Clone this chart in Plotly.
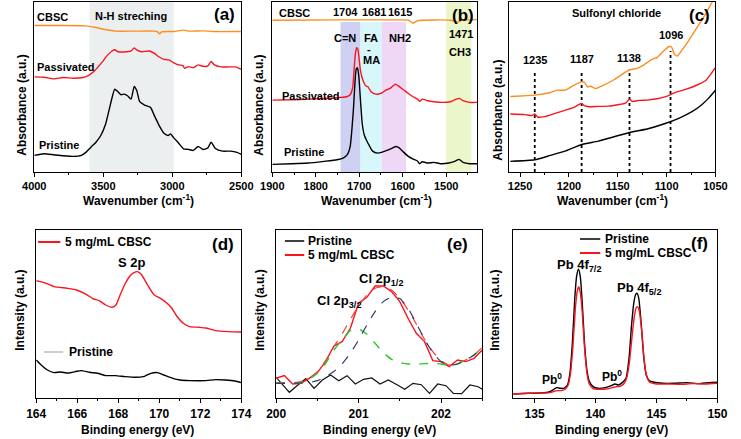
import plotly.graph_objects as go

W, H = 741, 439
FONT = "Liberation Sans, Arial, sans-serif"
ORANGE = "rgb(255,140,30)"
RED = "rgb(250,20,30)"
BLACK = "black"

# ---------------- Panel (a) : FTIR 4000-2500 ----------------
a_wn_cbsc = [4000, 3812, 3624, 3553, 3483, 3412, 3271, 3130, 3107, 3093, 3078, 2989, 2918, 2883, 2777, 2707, 2500]
a_cbsc = [147.3, 147.3, 147.0, 145.3, 143.3, 141.7, 141.7, 141.7, 141.0, 139.0, 141.0, 141.3, 142.7, 141.7, 142.0, 141.3, 141.3]

a_wn_pas = [4000, 3929, 3859, 3788, 3718, 3647, 3612, 3577, 3542, 3506, 3471, 3436, 3417, 3393, 3365, 3330, 3299,
            3276, 3252, 3224, 3165, 3130, 3095, 3060, 3024, 2989, 2954, 2923, 2911, 2883, 2848, 2813, 2777, 2742,
            2719, 2695, 2648, 2589, 2542, 2500]
a_pas = [95.7, 95.3, 93.7, 95.0, 94.3, 95.0, 96.7, 100.0, 105.0, 111.0, 117.3, 121.7, 123.0, 121.0, 120.7, 121.0, 121.7,
         124.7, 122.3, 121.0, 121.7, 119.3, 115.7, 113.3, 112.7, 109.7, 107.7, 107.0, 104.3, 106.0, 105.0, 107.7, 106.3, 106.7,
         111.3, 107.7, 105.7, 105.7, 105.7, 103.3]

a_wn_pri = [4000, 3929, 3859, 3788, 3718, 3659, 3624, 3589, 3553, 3518, 3483, 3459, 3436, 3417, 3396, 3372, 3349, 3325,
            3299, 3276, 3257, 3236, 3201, 3158, 3130, 3095, 3060, 3031, 3013, 2989, 2954, 2919, 2883, 2848, 2813, 2777,
            2742, 2719, 2688, 2636, 2578, 2531, 2500]
a_pri = [16.7, 18.3, 17.3, 16.3, 15.7, 16.7, 20.0, 25.0, 30.0, 36.7, 48.3, 61.7, 75.0, 83.3, 81.0, 77.7, 78.3, 76.7,
         73.3, 86.0, 81.7, 70.7, 67.3, 65.0, 56.7, 46.7, 39.0, 36.7, 38.3, 34.3, 29.0, 23.3, 22.7, 21.7, 25.7, 22.7,
         24.3, 30.0, 23.7, 21.0, 21.0, 19.7, 17.7]
a_band = [3600, 2990]

# ---------------- Panel (b) : FTIR 1900-1430 ----------------
b_wn_cbsc = [1900, 1744, 1632, 1587, 1576, 1565, 1490, 1472, 1464, 1429]
b_cbsc = [152.7, 153.0, 153.0, 152.7, 149.7, 152.3, 152.7, 150.7, 152.7, 153.3]

b_wn_pas = [1900, 1855, 1818, 1781, 1744, 1729, 1721, 1715, 1712, 1709, 1706, 1703, 1700, 1697, 1691, 1685, 1680,
            1673, 1662, 1650, 1639, 1628, 1617, 1610, 1598, 1587, 1576, 1566, 1561, 1555, 1542, 1528, 1509, 1490,
            1478, 1469, 1461, 1446, 1429]
b_pas = [72.3, 72.7, 73.3, 74.0, 75.0, 75.7, 77.7, 85.0, 101.7, 118.3, 125.0, 123.3, 113.3, 101.7, 91.7, 86.7, 85.7,
         81.0, 78.3, 79.0, 82.3, 84.3, 88.3, 86.7, 82.7, 79.0, 75.7, 73.3, 71.0, 73.3, 71.7, 70.7, 70.0, 70.7,
         73.0, 74.0, 71.7, 70.0, 70.0]

b_wn_pri = [1900, 1855, 1818, 1781, 1751, 1736, 1727, 1721, 1717, 1713, 1710, 1707, 1704, 1701, 1697, 1693, 1688,
            1683, 1677, 1669, 1658, 1647, 1636, 1624, 1615, 1608, 1598, 1587, 1576, 1566, 1561, 1555, 1542, 1528,
            1513, 1494, 1479, 1470, 1461, 1446, 1429]
b_pri = [7.7, 8.3, 9.0, 10.7, 12.3, 14.3, 17.7, 25.0, 41.7, 65.0, 88.3, 103.3, 105.0, 96.7, 71.7, 48.3, 36.7,
         31.7, 26.7, 21.0, 19.0, 20.0, 21.7, 24.0, 25.7, 24.3, 20.0, 15.7, 13.0, 11.0, 8.3, 10.3, 9.0, 9.7,
         8.3, 9.0, 11.0, 12.7, 9.7, 8.3, 8.3]
b_bands = [(1743, 1697), (1697, 1648), (1648, 1592), (1500, 1442)]
b_band_tops = [151, 151, 151, 171]
b_band_colors = ["rgb(207,209,243)", "rgb(215,247,250)", "rgb(239,215,246)", "rgb(235,246,202)"]

# ---------------- Panel (c) : FTIR 1260-1050 ----------------
c_wn_cbsc = [1260, 1235, 1219, 1212, 1204, 1196, 1187, 1184, 1181, 1178, 1173, 1166, 1153, 1143, 1138, 1130, 1125,
             1120, 1115, 1110, 1103, 1098, 1095, 1092, 1089, 1085, 1080, 1073.5, 1067, 1060, 1054, 1050]
c_cbsc = [76.0, 77.3, 80.0, 82.3, 82.3, 86.7, 90.7, 90.0, 85.7, 86.3, 84.0, 86.7, 93.3, 100.0, 102.7, 104.3, 106.7,
          110.0, 113.3, 115.0, 121.7, 126.0, 125.7, 118.3, 116.7, 121.7, 128.3, 138.3, 148.3, 159.0, 170.0, 177.0]

c_wn_pas = [1260, 1245, 1238, 1235, 1232, 1225, 1215, 1205, 1195, 1190, 1187, 1184, 1180, 1170, 1160, 1150, 1142,
            1138, 1135, 1128, 1120, 1110, 1100, 1095, 1090, 1080, 1070, 1060, 1050]
c_pas = [58.3, 57.7, 56.7, 58.5, 55.3, 55.7, 58.7, 61.7, 65.0, 67.7, 69.0, 66.7, 65.7, 66.0, 66.3, 67.7, 69.3,
         73.3, 71.0, 72.0, 72.3, 73.7, 76.0, 78.3, 80.3, 83.3, 87.0, 92.0, 105.0]

c_wn_pri = [1260, 1235, 1219, 1204, 1187, 1170, 1153, 1137, 1120, 1103, 1087, 1074, 1064, 1057, 1050]
c_pri = [10.7, 12.3, 16.7, 21.0, 27.7, 31.0, 35.7, 40.0, 43.3, 48.3, 54.3, 60.7, 67.7, 74.3, 82.3]

c_peaks = [1235, 1187, 1138, 1096]
c_peak_tops = [100, 101.7, 103, 121.7]
c_label_y = [112.3, 113.3, 114.5, 138.3]

# ---------------- Panel (d) : XPS S 2p ----------------
d_be_cbsc = [164.0, 164.39, 164.87, 165.5, 165.97, 166.44, 166.76, 167.07, 167.39, 167.7, 167.89, 168.09, 168.33,
             168.57, 168.77, 168.93, 169.12, 169.43, 169.75, 170.06, 170.38, 170.61, 170.85, 171.17, 171.48, 171.95,
             172.27, 172.74, 173.37, 174.0]
d_cbsc = [117.7, 115.7, 111.7, 110.0, 108.3, 104.0, 99.7, 97.7, 93.3, 91.0, 93.3, 103.3, 114.3,
          122.3, 125.7, 126.7, 124.0, 113.3, 103.3, 100.0, 95.0, 90.0, 82.3, 75.0, 71.7, 71.0,
          70.3, 67.7, 66.7, 66.3]
d_be_pri = [164.0, 164.24, 164.55, 164.87, 165.18, 165.57, 165.97, 166.2, 166.6, 166.99, 167.39, 167.86, 168.33,
            168.8, 169.28, 169.59, 169.91, 170.22, 170.69, 171.01, 171.48, 172.27, 172.74, 173.21, 173.69, 174.0]
d_pri = [38.3, 33.3, 28.3, 25.7, 26.3, 25.3, 27.0, 27.7, 26.0, 25.0, 22.7, 22.7, 21.7,
         21.0, 22.0, 25.0, 25.7, 23.3, 19.7, 18.3, 17.7, 17.7, 18.7, 18.3, 17.3, 15.7]

# ---------------- Panel (e) : XPS Cl 2p ----------------
e_be = [200.0, 200.1, 200.2, 200.3, 200.4, 200.5, 200.6, 200.7, 200.8, 200.9, 201.0, 201.1, 201.2,
        201.3, 201.4, 201.5, 201.6, 201.7, 201.8, 201.9, 202.0, 202.1, 202.2, 202.3, 202.4, 202.5]
e_cbsc = [20.0, 22.7, 14.3, 15.0, 20.0, 25.7, 36.7, 52.3, 56.7, 70.0, 95.0, 101.0, 112.3,
          112.3, 106.7, 96.7, 80.0, 65.0, 56.7, 37.7, 36.7, 31.7, 38.3, 36.7, 40.0, 48.3]
e_fit = [15.7, 15.7, 15.7, 16.7, 20.0, 26.7, 37.7, 51.7, 64.3, 79.0, 92.3, 103.3, 110.0,
         111.7, 108.3, 100.0, 88.3, 74.3, 59.0, 46.7, 37.7, 33.3, 35.0, 38.3, 43.3, 51.0]
e_cl32 = [15.0, 15.0, 15.0, 15.7, 19.0, 25.0, 35.0, 48.3, 58.3, 67.7, 69.3, 64.3, 55.0,
          45.7, 39.0, 35.7, 34.3, 34.0, 34.7, 35.0, 34.3, 33.0, 34.3, 38.3, 43.3, 51.0]
e_cl12 = [15.0, 15.0, 15.0, 15.3, 15.7, 17.7, 21.7, 26.7, 34.3, 45.0, 58.3, 73.3, 86.7,
          96.7, 101.0, 99.7, 90.0, 75.0, 59.0, 45.7, 36.7, 33.0, 34.3, 38.3, 43.3, 51.0]
e_be_pri = [200.0, 200.16, 200.26, 200.36, 200.46, 200.56, 200.66, 200.76, 200.86, 200.96, 201.06, 201.16, 201.26,
            201.36, 201.45, 201.56, 201.66, 201.76, 201.86, 201.96, 202.06, 202.15, 202.25, 202.35, 202.45, 202.5]
e_pri = [21.0, 6.0, 13.0, 19.6, 10.0, 18.3, 23.3, 17.6, 22.6, 14.3, 19.0, 20.3, 14.3,
         18.3, 14.3, 9.0, 15.0, 13.6, 5.0, 14.3, 12.6, 5.0, 4.6, 13.3, 11.6, 9.0]

# ---------------- Panel (f) : XPS Pb 4f ----------------
f_be_pri = [133.25, 134.5, 135.5, 136.2, 136.5, 136.8, 137.1, 137.4, 137.7, 137.9, 138.1, 138.3, 138.45, 138.6,
            138.75, 138.9, 139.1, 139.3, 139.5, 139.8, 140.2, 140.8, 141.3, 141.6, 141.9, 142.2, 142.5, 142.75,
            142.95, 143.15, 143.3, 143.42, 143.55, 143.75, 143.95, 144.15, 144.4, 144.8, 145.5, 146.5, 147.5,
            148.5, 149.3, 150.0]
f_pri = [4.3, 5.0, 5.3, 6.3, 8.3, 10.7, 10.0, 10.0, 13.3, 25.0, 55.0, 100.0, 122.0, 129.0,
         122.0, 98.0, 55.0, 28.0, 16.7, 11.7, 10.0, 10.7, 12.7, 14.3, 13.3, 15.7, 20.0, 40.0,
         72.0, 96.0, 104.0, 105.0, 100.0, 75.0, 42.0, 24.0, 17.7, 16.0, 15.0, 15.0, 15.7,
         14.7, 15.7, 16.0]
f_be_cbsc = [133.25, 134.5, 135.5, 136.3, 136.6, 136.9, 137.2, 137.5, 137.75, 137.95, 138.15, 138.35, 138.5, 138.62,
             138.75, 138.9, 139.1, 139.3, 139.5, 139.8, 140.3, 140.9, 141.4, 141.7, 142.0, 142.3, 142.55, 142.8,
             143.0, 143.2, 143.35, 143.45, 143.6, 143.8, 144.0, 144.2, 144.45, 145.0, 146.0, 147.0, 148.0, 149.0, 150.0]
f_cbsc = [4.3, 5.0, 5.3, 5.7, 7.0, 7.7, 7.7, 9.0, 13.0, 25.0, 52.0, 90.0, 107.0, 111.7,
          106.0, 88.0, 50.0, 25.0, 14.0, 9.7, 9.0, 9.3, 10.7, 11.7, 12.0, 14.0, 20.0, 38.0,
          62.0, 83.0, 90.7, 91.7, 87.0, 66.0, 38.0, 22.0, 16.0, 14.3, 14.3, 14.0, 14.7, 14.3, 15.0]

# ---------------- Figure ----------------
fig = go.Figure()


def add(x, y, color, n, width=1.4, dash="solid", shape="spline"):
    ax = "" if n == 1 else str(n)
    fig.add_trace(go.Scatter(x=x, y=y, mode="lines", xaxis="x" + ax, yaxis="y" + ax,
                             line=dict(color=color, width=width, dash=dash, shape=shape,
                                       smoothing=0.5 if shape == "spline" else None),
                             hoverinfo="skip", showlegend=False))


add(a_wn_cbsc, a_cbsc, ORANGE, 1)
add(a_wn_pas, a_pas, RED, 1)
add(a_wn_pri, a_pri, BLACK, 1)

add(b_wn_cbsc, b_cbsc, ORANGE, 2)
add(b_wn_pas, b_pas, RED, 2)
add(b_wn_pri, b_pri, BLACK, 2)

for p, t in zip(c_peaks, c_peak_tops):
    add([p, p], [0, t], BLACK, 3, width=1.8, dash="dot", shape="linear")
add(c_wn_cbsc, c_cbsc, ORANGE, 3)
add(c_wn_pas, c_pas, RED, 3)
add(c_wn_pri, c_pri, BLACK, 3)

add(d_be_pri, d_pri, BLACK, 4)
add(d_be_cbsc, d_cbsc, RED, 4)

add(e_be_pri, e_pri, "#111111", 5, width=1.2, shape="linear")
add(e_be, e_cbsc, RED, 5, width=1.4, shape="linear")
add(e_be, e_fit, "rgb(240,60,70)", 5, width=1.2, dash="dash")
add(e_be, e_cl32, "rgb(40,200,40)", 5, width=1.4, dash="dash")
add(e_be, e_cl12, "rgb(50,60,110)", 5, width=1.2, dash="dash")

add(f_be_pri, f_pri, BLACK, 6)
add(f_be_cbsc, f_cbsc, RED, 6)

# axes
TOP = [1 - 172 / H, 1 - 2 / H]
BOT = [1 - 398.3 / H, 1 - 230 / H]
xdoms = [(23, 237), (269, 481), (514, 727), (25, 237), (273, 486), (518, 729)]
xranges = [[4000, 2500], [1900, 1428], [1261, 1050], [164, 174], [200, 202.5], [133.25, 150]]
dticks = [500, 100, 50, 2, 1, 5]
minors = [250, 50, 25, 1, 0.5, 2.5]
tfs = [11, 11, 11, 12, 12, 12]
layout = dict(width=W, height=H, margin=dict(l=0, r=0, t=0, b=0), autosize=False,
              paper_bgcolor="white", plot_bgcolor="white", showlegend=False)
for i in range(6):
    n = "" if i == 0 else str(i + 1)
    layout["xaxis" + n] = dict(domain=[xdoms[i][0] / W, xdoms[i][1] / W], range=xranges[i],
                               anchor="y" + n, showline=True, linecolor="black", linewidth=1, mirror=True,
                               ticks="outside", ticklen=4, tickwidth=1, tickcolor="black",
                               dtick=dticks[i], tick0=0, showgrid=False, zeroline=False,
                               minor=dict(dtick=minors[i], ticks="outside", ticklen=2, tickcolor="black", showgrid=False),
                               tickfont=dict(family=FONT, size=tfs[i], color="black", weight="bold"))
    layout["yaxis" + n] = dict(domain=TOP if i < 3 else BOT, range=[0, 171] if i < 3 else [0, 168.3],
                               anchor="x" + n, showline=True, linecolor="black", linewidth=1, mirror=True,
                               showticklabels=False, ticks="", showgrid=False, zeroline=False)

shapes = []
shapes.append(dict(type="rect", xref="x", yref="y domain", x0=a_band[0], x1=a_band[1], y0=0, y1=1,
                   fillcolor="rgb(236,239,239)", line=dict(width=0), layer="below"))
for (x0, x1), top, col in zip(b_bands, b_band_tops, b_band_colors):
    shapes.append(dict(type="rect", xref="x2", yref="y2", x0=x0, x1=x1, y0=0, y1=top,
                       fillcolor=col, line=dict(width=0), layer="below"))


def seg(x0, x1, y, color, width=2):
    shapes.append(dict(type="line", xref="paper", yref="paper", x0=x0 / W, x1=x1 / W,
                       y0=1 - y / H, y1=1 - y / H, line=dict(color=color, width=width)))


seg(27, 50, 242, RED)
seg(33, 53, 352, "rgb(190,190,190)", 1.5)
seg(282, 302, 241, BLACK, 1.5)
seg(282, 302, 255, RED)
seg(587, 608, 239, BLACK, 1.5)
seg(587, 608, 253, RED)
layout["shapes"] = shapes

anns = []


def ann(text, px, py, size=11, xanchor="center", angle=0):
    anns.append(dict(text=text, x=px / W, y=1 - py / H, xref="paper", yref="paper", showarrow=False,
                     xanchor=xanchor, yanchor="middle", textangle=angle,
                     font=dict(family=FONT, size=size, color="black", weight="bold")))


# axis titles
for cx in (131, 377, 621):
    ann("Wavenumber (cm<sup>-1</sup>)", cx, 200, 12)
for cx in (130, 380, 620):
    ann("Binding energy (eV)", cx, 430, 12)
ann("Absorbance (a.u.)", 10, 105, 12, angle=-90)
ann("Absorbance (a.u.)", 255, 105, 12, angle=-90)
ann("Absorbance (a.u.)", 502, 110, 12, angle=-90)
ann("Intensity (a.u.)", 8, 310, 12, angle=-90)
ann("Intensity (a.u.)", 256, 310, 12, angle=-90)
ann("Intensity (a.u.)", 499, 310, 12, angle=-90)

# panel letters
ann("(a)", 220, 15, 17)
ann("(b)", 466, 16, 17)
ann("(c)", 710, 16, 17)
ann("(d)", 218, 244, 17)
ann("(e)", 460, 244, 17)
ann("(f)", 710, 243, 17)

# panel (a)
ann("CBSC", 42, 17, 11)
ann("N-H streching", 123, 16, 11)
ann("Passivated", 55, 67, 11)
ann("Pristine", 49, 145, 11)
# panel (b)
ann("CBSC", 292, 13, 11)
ann("1704", 345, 12, 11)
ann("1681", 374, 12, 11)
ann("1615", 401, 12, 11)
ann("C=N", 344, 38, 11)
ann("FA", 371, 38, 11)
ann("-", 369, 49, 11)
ann("MA", 372, 60, 11)
ann("NH2", 401, 38, 11)
ann("1471", 464, 34, 11)
ann("CH3", 463, 52, 11)
ann("Passivated", 308, 96, 11)
ann("Pristine", 302, 152, 11)
# panel (c)
ann("Sulfonyl chloride", 625, 13, 11)
for p, ly in zip(c_peaks, c_label_y):
    anns.append(dict(text=str(p), x=p, y=ly, xref="x3", yref="y3", showarrow=False,
                     font=dict(family=FONT, size=11, color="black", weight="bold")))
# panel (d)
ann("5 mg/mL CBSC", 53, 242, 12, xanchor="left")
ann("Pristine", 57, 352, 12, xanchor="left")
ann("S 2p", 124, 262, 13)
# panel (e)
ann("Pristine", 304, 241, 12, xanchor="left")
ann("5 mg/mL CBSC", 304, 255, 12, xanchor="left")
ann("Cl 2p<sub>1/2</sub>", 381, 279, 13)
ann("Cl 2p<sub>3/2</sub>", 338, 301, 13)
# panel (f)
ann("Pristine", 611, 239, 12, xanchor="left")
ann("5 mg/mL CBSC", 611, 253, 12, xanchor="left")
ann("Pb 4f<sub>7/2</sub>", 586, 265, 13)
ann("Pb 4f<sub>5/2</sub>", 648, 288, 13)
ann("Pb<sup>0</sup>", 558, 379, 12)
ann("Pb<sup>0</sup>", 620, 376, 12)

layout["annotations"] = anns
fig.update_layout(**layout)
fig.write_html("out.html")
